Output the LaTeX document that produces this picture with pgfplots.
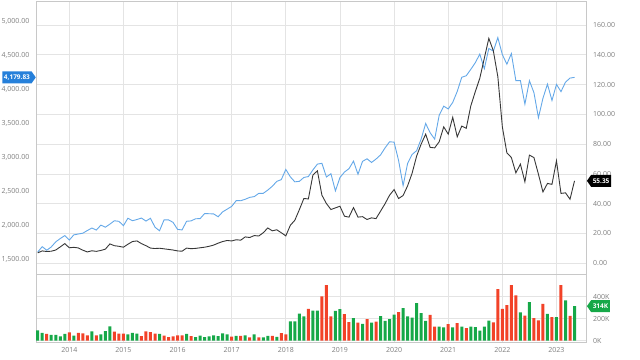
\documentclass[border=0pt]{standalone}
\usepackage{pgfplots}
\pgfplotsset{compat=1.18}
\usepackage{pgfplotstable}
\usepackage{fontspec}
\setmainfont{Open Sans}
\usetikzlibrary{shapes.symbols}
\definecolor{spxc}{RGB}{100,168,232}
\definecolor{stkc}{RGB}{55,55,55}
\definecolor{gridc}{RGB}{228,228,228}
\definecolor{framec}{RGB}{200,200,200}
\definecolor{tickc}{RGB}{125,125,125}
\definecolor{upg}{RGB}{22,168,72}
\definecolor{dnr}{RGB}{242,66,40}
\definecolor{badgeb}{RGB}{38,128,218}

\pgfplotstableread{
i spx stk
0 1606.28 7.0
1 1685.73 8.3
2 1632.97 7.9
3 1681.55 8.1
4 1756.54 8.9
5 1805.81 11.0
6 1848.36 13.2
7 1782.59 10.4
8 1859.45 10.7
9 1872.34 10.3
10 1883.95 8.8
11 1923.57 7.6
12 1960.23 8.4
13 1930.67 8.0
14 2003.37 8.6
15 1972.29 9.5
16 2018.05 13.0
17 2067.56 11.8
18 2058.90 11.4
19 1994.99 10.8
20 2104.50 12.8
21 2067.89 14.6
22 2085.51 15.0
23 2107.39 13.2
24 2063.11 11.8
25 2103.84 10.2
26 1972.18 9.9
27 1920.03 10.1
28 2079.36 9.7
29 2080.41 9.3
30 2043.94 8.9
31 1940.24 8.3
32 1932.23 8.1
33 2059.74 10.2
34 2065.30 9.8
35 2096.95 10.0
36 2098.86 10.4
37 2173.60 10.8
38 2170.95 11.4
39 2168.27 12.2
40 2126.15 13.5
41 2198.81 14.6
42 2238.83 15.3
43 2278.87 15.0
44 2363.64 15.8
45 2362.72 15.5
46 2384.20 17.7
47 2411.80 17.3
48 2423.41 18.6
49 2470.30 18.3
50 2471.65 20.5
51 2519.36 23.7
52 2575.26 21.8
53 2647.58 22.5
54 2673.61 20.5
55 2823.81 18.4
56 2713.83 25.5
57 2640.87 28.9
58 2648.05 36.0
59 2705.27 43.5
60 2718.37 43.2
61 2816.29 59.2
62 2901.52 62.1
63 2913.98 45.7
64 2711.74 40.1
65 2760.17 36.1
66 2506.85 37.2
67 2704.10 38.3
68 2784.49 31.6
69 2834.40 31.0
70 2945.83 37.4
71 2752.06 31.0
72 2941.76 31.3
73 2980.38 29.4
74 2926.46 30.5
75 2976.74 30.0
76 3037.56 35.0
77 3140.98 40.0
78 3230.78 45.7
79 3225.52 49.5
80 2954.22 43.5
81 2584.59 45.5
82 2912.43 52.0
83 3044.31 60.5
84 3100.29 72.0
85 3271.12 80.0
86 3500.31 86.7
87 3363.00 77.8
88 3269.96 77.5
89 3621.63 81.6
90 3756.07 91.6
91 3714.24 86.7
92 3811.15 98.0
93 3972.89 84.9
94 4181.17 92.1
95 4204.11 90.6
96 4297.50 105.6
97 4395.26 115.2
98 4522.68 124.2
99 4307.54 137.6
100 4605.38 151.0
101 4567.00 142.7
102 4766.18 125.3
103 4515.55 91.6
104 4373.94 74.2
105 4530.41 71.0
106 4131.93 60.7
107 4132.15 66.6
108 3785.38 54.7
109 4130.29 72.6
110 3955.00 71.0
111 3585.62 59.8
112 3871.98 47.9
113 4080.11 53.6
114 3839.50 53.0
115 4076.60 68.8
116 3970.15 46.9
117 4109.31 47.3
118 4169.48 43.0
119 4179.83 55.35
}\prices

\pgfplotstableread{
i v
0 94
1 70
3 52
4 52
5 39
6 61
8 45
12 85
14 58
15 88
16 130
20 58
21 70
22 64
27 61
33 61
35 33
36 45
37 33
38 39
39 48
40 42
41 66
42 58
44 43
46 49
48 58
50 31
51 43
53 34
56 175
57 175
58 246
59 222
61 274
62 274
66 270
67 287
70 205
72 153
74 165
76 223
77 180
78 196
79 238
81 296
82 220
83 210
84 342
85 250
86 180
89 129
90 120
92 120
94 129
96 129
97 123
98 92
99 129
100 182
107 258
109 351
113 243
115 215
117 366
119 314
}\volup

\pgfplotstableread{
i v
2 61
7 76
9 70
10 67
11 48
13 48
17 82
18 64
19 64
23 42
24 85
25 79
26 64
28 45
29 33
30 39
31 48
32 48
34 42
43 37
45 43
47 31
49 31
52 43
54 68
55 58
60 289
63 403
64 505
65 222
68 241
69 168
71 165
73 195
75 174
80 260
87 234
88 129
91 151
93 160
95 114
101 166
102 468
103 289
104 323
105 505
106 412
108 228
110 206
111 185
112 335
114 215
116 505
118 225
}\voldn

\tikzset{
  badge/.style={signal, signal pointer angle=110, text=white,
    font=\fontsize{6.5}{7}\selectfont\bfseries, inner xsep=1.6pt, inner ysep=0pt,
    minimum height=12pt},
}
\pgfplotsset{
  base/.style={
    scale only axis, width=550.7pt, anchor=south west,
    xmin=-0.38, xmax=121.7,
    xtick={7,19,31,43,55,67,79,91,103,115},
    major tick length=0pt,
    tick label style={font=\fontsize{7}{8}\selectfont, text=tickc},
    /pgf/number format/assume math mode=true,
  },
}

\begin{document}
\begin{tikzpicture}
\useasboundingbox (0pt,0pt) rectangle (640pt,359pt);
% upper panel: grid + right axis
\begin{axis}[base, at={(36pt,85pt)}, height=273pt,
  ymin=-7.2, ymax=176.1, ytick={0,20,...,160},
  yticklabel pos=right, xticklabels={},
  grid=major, grid style={gridc, line width=0.8pt},
  axis line style={framec, line width=0.8pt},
  yticklabel style={inner sep=0pt, xshift=6.3pt,
    /pgf/number format/.cd, fixed, fixed zerofill, precision=2},
]
\end{axis}
% upper panel: left axis with blue series
\begin{axis}[base, at={(36pt,85pt)}, height=273pt,
  ymin=1283, ymax=5305, ytick={1500,2000,...,5000},
  xtick=\empty, axis line style={draw=none}, clip=false,
  yticklabel style={inner sep=0pt, xshift=-6.5pt,
    /pgf/number format/.cd, fixed, fixed zerofill, precision=2, 1000 sep={,}},
]
\addplot[spxc, line width=0.9pt, mark=none] table[x=i, y=spx]{\prices};
\node[badge, signal to=east, fill=badgeb, anchor=east] at (axis cs:-0.38,4179.83) {4,179.83};
\end{axis}
% upper panel: black series on right scale
\begin{axis}[base, at={(36pt,85pt)}, height=273pt,
  ymin=-7.2, ymax=176.1, hide axis, clip=false]
\addplot[stkc, line width=0.9pt, mark=none] table[x=i, y=stk]{\prices};
\node[badge, signal to=west, fill=black, anchor=west] at (axis cs:121.7,55.35) {55.35};
\end{axis}
% lower panel: volume
\begin{axis}[base, at={(36pt,17pt)}, height=68pt,
  ymin=-11.8, ymax=606, ytick={0,200,400}, yticklabels={0K,200K,400K},
  yticklabel pos=right,
  xticklabels={2014,2015,2016,2017,2018,2019,2020,2021,2022,2023},
  grid=major, grid style={gridc, line width=0.8pt},
  axis line style={framec, line width=0.8pt},
  yticklabel style={inner sep=0pt, xshift=6.3pt},
  xticklabel style={inner sep=0pt, yshift=-5.5pt},
  clip=false,
]
\addplot[ybar, bar width=3pt, bar shift=0pt, fill=upg, draw=none] table[x=i, y=v]{\volup};
\addplot[ybar, bar width=3pt, bar shift=0pt, fill=dnr, draw=none] table[x=i, y=v]{\voldn};
\node[badge, signal to=west, fill=upg, anchor=west] at (axis cs:121.7,314) {314K};
\end{axis}
\end{tikzpicture}
\end{document}
